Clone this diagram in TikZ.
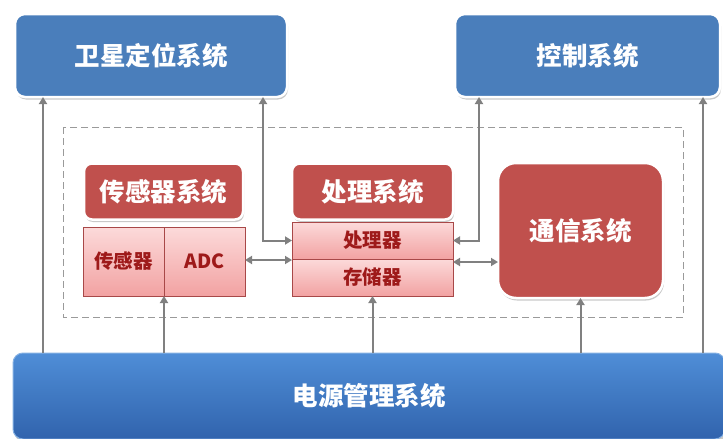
\documentclass[tikz,border=0pt]{standalone}
\usepackage{fontspec}
\setmainfont{Noto Sans CJK SC}
\usetikzlibrary{arrows.meta,shadows,calc}
\definecolor{bluebox}{HTML}{4A7EBB}
\definecolor{redbox}{HTML}{C0504D}
\definecolor{pinktop}{HTML}{FCDADA}
\definecolor{pinkbot}{HTML}{F2A2A2}
\definecolor{pinkline}{HTML}{A84848}
\definecolor{pinktext}{HTML}{9E1A1A}
\definecolor{linegray}{HTML}{808080}
\definecolor{powtop}{HTML}{4F8ED7}
\definecolor{powbot}{HTML}{3163AD}
\tikzset{
  box/.style={rectangle, inner sep=0pt, outer sep=0pt, draw=white, line width=2.5pt,
    text=white, font=\fontsize{25.5}{25.5}\selectfont\bfseries,
    drop shadow={shadow xshift=1pt, shadow yshift=-2.5pt, opacity=0.35, fill=black!60}},
  bluebox/.style={box, fill=bluebox, rounded corners=10pt},
  redbox/.style={box, fill=redbox, rounded corners=8pt},
  pinkbox/.style={rectangle, inner sep=0pt, outer sep=0pt, draw=pinkline, line width=0.8pt,
    top color=pinktop, bottom color=pinkbot, text=pinktext,
    font=\fontsize{19.5}{19.5}\selectfont\bfseries},
  conn/.style={draw=linegray, line width=2pt, -{Triangle[length=7pt,width=8pt]}},
  bconn/.style={draw=linegray, line width=2pt, {Triangle[length=7pt,width=8pt]}-{Triangle[length=7pt,width=8pt]}},
}
\begin{document}
\begin{tikzpicture}[x=1pt,y=-1pt]
\useasboundingbox (0,0) rectangle (723,439);
\fill[white] (0,0) rectangle (723,439);
% dashed frame
\draw[linegray!80, line width=1pt, dash pattern=on 7pt off 4pt] (63,127) rectangle (683,317);
% top boxes
\node[bluebox, minimum width=272pt, minimum height=83pt] (sat) at (151,55.5) {卫星定位系统};
\node[bluebox, minimum width=265pt, minimum height=83pt] (ctrl) at (587.5,55.5) {控制系统};
% sensor
\node[redbox, minimum width=159pt, minimum height=56pt] (senssys) at (163.5,191.5) {传感器系统};
\node[pinkbox, minimum width=81pt, minimum height=69pt] (sens) at (123.5,261.5) {传感器};
\node[pinkbox, minimum width=81pt, minimum height=69pt] (adc) at (204.5,261.5) {ADC};
% processing
\node[redbox, minimum width=161pt, minimum height=56pt] (procsys) at (372.5,191.5) {处理系统};
\node[pinkbox, minimum width=161pt, minimum height=37pt] (proc) at (372.5,240.5) {处理器};
\node[pinkbox, minimum width=161pt, minimum height=37pt] (mem) at (372.5,277.5) {存储器};
% communication
\node[redbox, rounded corners=18pt, minimum width=165pt, minimum height=135pt] (comm) at (580.5,230.5) {通信系统};
% power
\node[box, rounded corners=10pt, top color=powtop, bottom color=powbot, draw=powtop!70!white, line width=1pt,
  minimum width=712pt, minimum height=86pt] (power) at (369,396) {电源管理系统};
% helper coordinates
\coordinate (c1) at (263,0);
\coordinate (c2) at (479,0);
\coordinate (p1) at (43,0);
\coordinate (p5) at (703,0);
\coordinate (y1) at (0,260);
\coordinate (y2) at (0,262);
% connectors
\draw[bconn] (sat.south -| c1) |- (proc.west);
\draw[bconn] (ctrl.south -| c2) |- (proc.east);
\draw[bconn] (adc.east |- y1) -- (proc.west |- y1);
\draw[bconn] (mem.east |- y2) -- (comm.west |- y2);
\draw[conn] (power.north -| p1) -- (sat.south -| p1);
\draw[conn] (power.north -| adc.south west) -- (adc.south west);
\draw[conn] (power.north -| mem.south) -- (mem.south);
\draw[conn] (power.north -| comm.south) -- (comm.south);
\draw[conn] (power.north -| p5) -- (ctrl.south -| p5);
\end{tikzpicture}
\end{document}
